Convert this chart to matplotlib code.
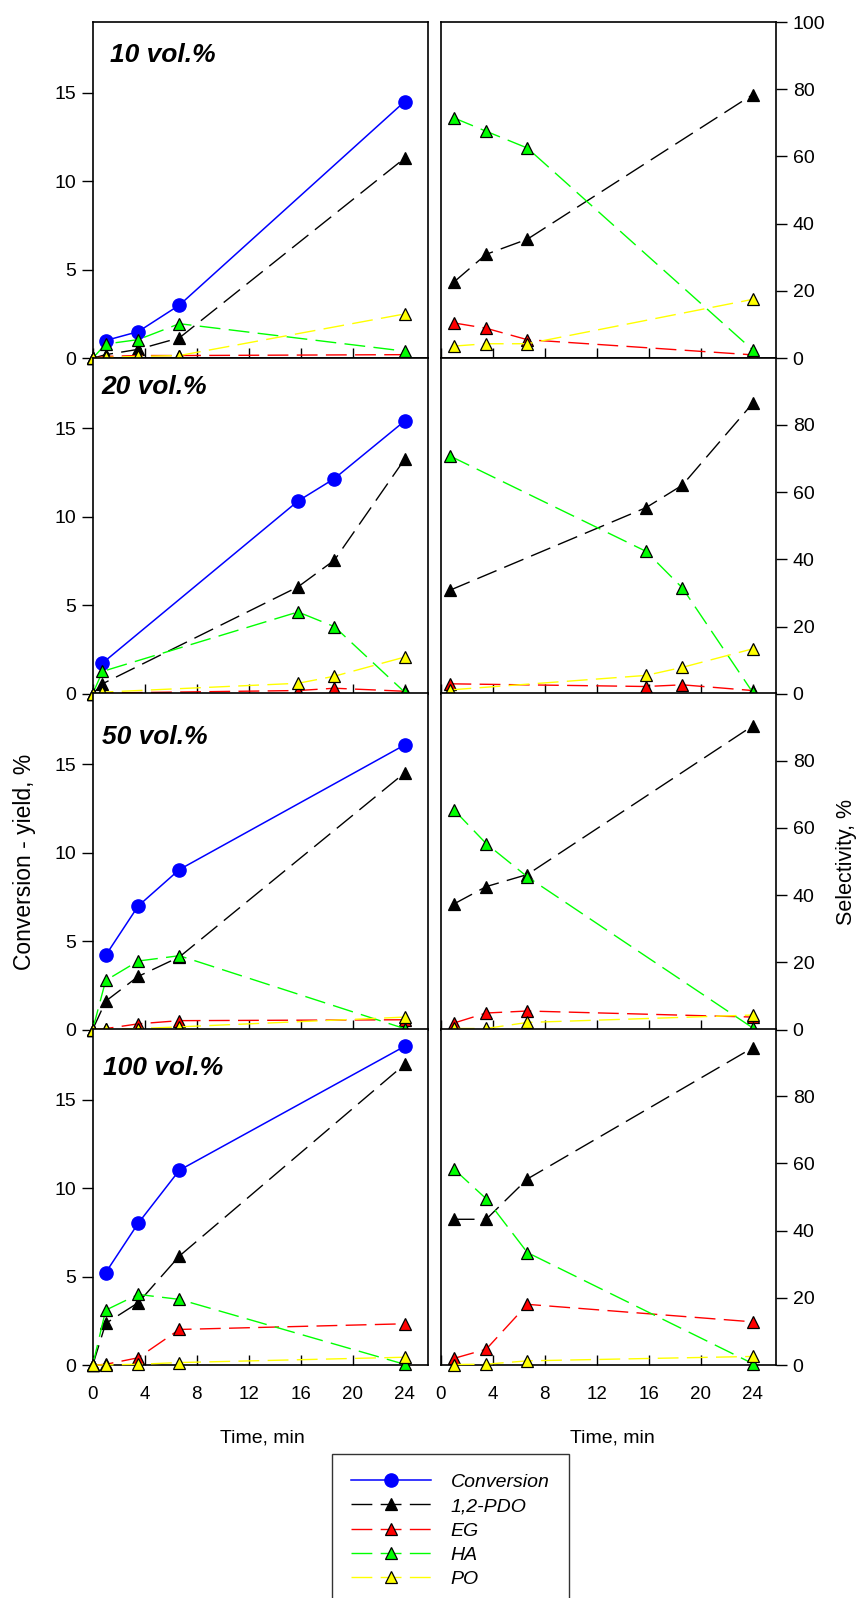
import matplotlib
matplotlib.use("Agg")
import matplotlib.pyplot as plt
from matplotlib import font_manager

plt.rcParams['font.family'] = ['Liberation Sans', 'DejaVu Sans']

# narrow font for the time tick labels if present
noms = {f.name for f in font_manager.fontManager.ttflist}
police_x = 'Liberation Sans Narrow' if 'Liberation Sans Narrow' in noms else 'Liberation Sans'

# ---- data ----
labels_panneaux = ["10 vol.%", "20 vol.%", "50 vol.%", "100 vol.%"]

t10 = [0, 1, 3.5, 6.67, 24]
conv10 = [1.0, 1.5, 3.0, 14.5]
pdo10 = [0, 0.2, 0.5, 1.15, 11.3]
eg10 = [0, 0.1, 0.15, 0.15, 0.2]
ha10 = [0, 0.8, 1.05, 1.95, 0.4]
po10 = [0, 0.05, 0.1, 0.15, 2.5]
s_pdo10 = [22.6, 30.9, 35.4, 78.4]
s_eg10 = [10.5, 8.9, 5.5, 1.0]
s_ha10 = [71.5, 67.5, 62.5, 2.5]
s_po10 = [3.6, 4.3, 4.3, 17.5]

t20 = [0, 0.75, 15.8, 18.6, 24]
conv20 = [1.74, 10.9, 12.17, 15.42]
pdo20 = [0, 0.57, 6.05, 7.56, 13.26]
eg20 = [0, 0.05, 0.19, 0.32, 0.15]
ha20 = [0, 1.27, 4.63, 3.8, 0.1]
po20 = [0, 0.1, 0.6, 1.0, 2.08]
s_pdo20 = [30.9, 55.4, 62.1, 86.4]
s_eg20 = [3.0, 2.2, 2.7, 1.0]
s_ha20 = [70.7, 42.4, 31.5, 0.5]
s_po20 = [1.2, 5.5, 7.9, 13.4]

t50 = [0, 1, 3.5, 6.67, 24]
conv50 = [4.19, 6.98, 9.04, 16.08]
pdo50 = [0, 1.6, 3.0, 4.1, 14.5]
eg50 = [0, 0.05, 0.32, 0.5, 0.55]
ha50 = [0, 2.77, 3.87, 4.17, 0.05]
po50 = [0, 0.02, 0.05, 0.15, 0.7]
s_pdo50 = [37.3, 42.5, 46.1, 90.3]
s_eg50 = [1.9, 4.9, 5.5, 3.7]
s_ha50 = [65.4, 55.3, 45.4, 0.5]
s_po50 = [0.3, 0.3, 2.1, 4.3]

t100 = [0, 1, 3.5, 6.67, 24]
conv100 = [5.23, 8.02, 11.02, 18.02]
pdo100 = [0, 2.36, 3.53, 6.17, 17.0]
eg100 = [0, 0.05, 0.42, 2.02, 2.34]
ha100 = [0, 3.11, 4.0, 3.72, 0.05]
po100 = [0, 0.02, 0.05, 0.15, 0.45]
s_pdo100 = [43.4, 43.4, 55.4, 94.4]
s_eg100 = [2.0, 4.75, 18.1, 12.9]
s_ha100 = [58.4, 49.5, 33.5, 0.5]
s_po100 = [0.2, 0.3, 1.3, 2.6]

temps = [t10, t20, t50, t100]
conversion = [conv10, conv20, conv50, conv100]
rendement = [
    {"pdo": pdo10, "eg": eg10, "ha": ha10, "po": po10},
    {"pdo": pdo20, "eg": eg20, "ha": ha20, "po": po20},
    {"pdo": pdo50, "eg": eg50, "ha": ha50, "po": po50},
    {"pdo": pdo100, "eg": eg100, "ha": ha100, "po": po100},
]
selectivite = [
    {"pdo": s_pdo10, "eg": s_eg10, "ha": s_ha10, "po": s_po10},
    {"pdo": s_pdo20, "eg": s_eg20, "ha": s_ha20, "po": s_po20},
    {"pdo": s_pdo50, "eg": s_eg50, "ha": s_ha50, "po": s_po50},
    {"pdo": s_pdo100, "eg": s_eg100, "ha": s_ha100, "po": s_po100},
]

# ---- styles ----
produits = [("pdo", "1,2-PDO", "black"), ("eg", "EG", "red"),
            ("ha", "HA", "#00ff00"), ("po", "PO", "yellow")]
tirets = (15, 6)
lw = 1.0

# panel geometry in pixels (861 x 1598)
W, H = 861, 1598
x_gauche, x_droite, larg = 92.7, 440.7, 335.3
hauts = [22, 357.7, 693.3, 1029]
haut_p = 336.2
pos_label = [(0.052, 0.902), (0.027, 0.914), (0.027, 0.871), (0.032, 0.885)]

fig = plt.figure(figsize=(W / 100, H / 100), dpi=100)

handles = None
for i in range(4):
    bas = 1 - (hauts[i] + haut_p) / H
    axg = fig.add_axes([x_gauche / W, bas, larg / W, haut_p / H])
    axd = fig.add_axes([x_droite / W, bas, larg / W, haut_p / H])
    t = temps[i]

    # left: conversion and yields
    hs = []
    h, = axg.plot(t[1:], conversion[i], color='blue', lw=1.1, marker='o',
                  markersize=9.5, markerfacecolor='blue', markeredgecolor='blue',
                  clip_on=False, label='Conversion', zorder=3)
    hs.append(h)
    for k, (cle, nom, coul) in enumerate(produits):
        h, = axg.plot(t, rendement[i][cle], color=coul, lw=lw, dashes=tirets,
                      marker='^', markersize=9, markerfacecolor=coul,
                      markeredgecolor='black', markeredgewidth=0.9,
                      clip_on=False, label=nom, zorder=4 + k)
        hs.append(h)
    if handles is None:
        handles = hs

    # right: selectivities
    for k, (cle, nom, coul) in enumerate(produits):
        axd.plot(t[1:], selectivite[i][cle], color=coul, lw=lw, dashes=tirets,
                 marker='^', markersize=9, markerfacecolor=coul,
                 markeredgecolor='black', markeredgewidth=0.9,
                 clip_on=False, zorder=4 + k)

    axg.set_xlim(0, 25.8)
    axg.set_ylim(0, 19)
    axg.set_yticks([0, 5, 10, 15])
    axd.set_xlim(0, 25.8)
    axd.set_ylim(0, 100)
    axd.set_yticks([0, 20, 40, 60, 80, 100] if i == 0 else [0, 20, 40, 60, 80])
    axd.yaxis.tick_right()

    for ax in (axg, axd):
        ax.set_xticks([0, 4, 8, 12, 16, 20, 24])
        ax.tick_params(axis='x', direction='in', length=7, width=1,
                       labelbottom=(i == 3), labelsize=13.5, pad=15)
        ax.tick_params(axis='y', direction='out', length=8, width=1,
                       labelsize=14, pad=4)
        for s in ax.spines.values():
            s.set_linewidth(1.2)
        if i == 3:
            for lab in ax.get_xticklabels():
                lab.set_family(police_x)

    axg.text(pos_label[i][0], pos_label[i][1], labels_panneaux[i],
             transform=axg.transAxes, fontsize=19, fontweight='bold',
             fontstyle='italic', ha='left', va='center')

# axis titles
fig.text(25 / W, 1 - 862 / H, "Conversion - yield, %", rotation=90,
         ha='center', va='center', fontsize=16.5)
fig.text(846.7 / W, 1 - 862 / H, "Selectivity, %", rotation=90,
         ha='center', va='center', fontsize=15.5)
fig.text(262 / W, 1 - 1438 / H, "Time, min", ha='center', va='center', fontsize=14)
fig.text(612 / W, 1 - 1438 / H, "Time, min", ha='center', va='center', fontsize=14)

# legend
leg = fig.legend(handles=handles, loc='upper left',
                 bbox_to_anchor=(332 / W, 1 - 1454 / H), borderaxespad=0,
                 frameon=True, fancybox=False, edgecolor='black',
                 prop={'style': 'italic', 'size': 14}, handlelength=4.1,
                 handletextpad=1.0, labelspacing=0.34, borderpad=1.0,
                 numpoints=1)
leg.get_frame().set_linewidth(1.0)

fig.savefig("out.png", dpi=100)
